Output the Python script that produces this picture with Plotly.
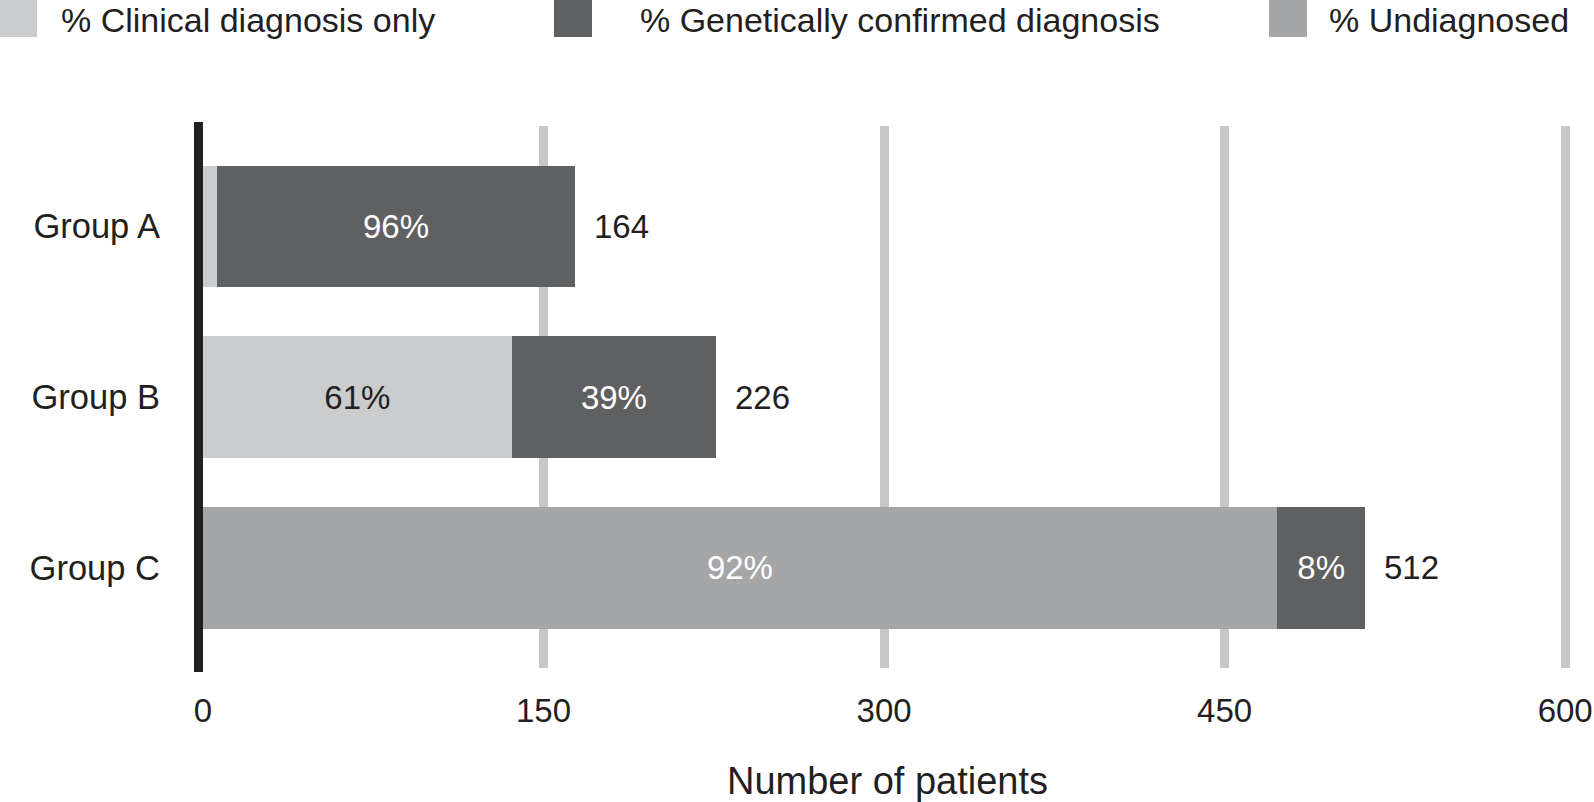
import plotly.graph_objects as go

# ---------------- data ----------------
groups = ["Group A", "Group B", "Group C"]
series_names = ["% Clinical diagnosis only", "% Genetically confirmed diagnosis", "% Undiagnosed"]
clinical = [6, 136, 0]
undiagnosed = [0, 0, 473]
genetic = [158, 90, 39]
clinical_pct = ["", "61%", ""]
undiagnosed_pct = ["", "", "92%"]
genetic_pct = ["96%", "39%", "8%"]
totals = [164, 226, 512]
x_ticks = [0, 150, 300, 450, 600]
x_title = "Number of patients"

# ---------------- style ----------------
FONT = "Liberation Sans, Arial, Helvetica, sans-serif"
TXT = "#231f20"
C_CLIN = "#cbccce"
C_GEN = "#5f6062"
C_UND = "#a5a6a8"
C_GRID = "#c6c7c9"
FS = 33
FS_CAT = 34.5
FS_LEG = 34
FS_TITLE = 38

W, H = 1594, 802
ML, MR, MT, MB = 203, 22, 126, 134
PW, PH = W - ML - MR, H - MT - MB


def px_x(p):
    return (p - ML) / PW


def px_y(p):
    return (H - MB - p) / PH


fig = go.Figure()

stack = [
    (clinical, clinical_pct, C_CLIN, TXT),
    (undiagnosed, undiagnosed_pct, C_UND, "white"),
    (genetic, genetic_pct, C_GEN, "white"),
]
for vals, labels, col, tcol in stack:
    fig.add_trace(go.Bar(
        y=groups, x=vals, orientation="h",
        marker=dict(color=col, line=dict(width=0)),
        text=labels, textposition="inside", insidetextanchor="middle",
        textangle=0, constraintext="none",
        insidetextfont=dict(family=FONT, size=FS, color=tcol),
        showlegend=False, hoverinfo="x+y",
    ))

# totals to the right of the bars
for g, t in zip(groups, totals):
    fig.add_annotation(x=t, y=g, xref="x", yref="y", text=str(t), showarrow=False,
                       xanchor="left", yanchor="middle", xshift=17,
                       font=dict(family=FONT, size=FS, color=TXT))

# thick black axis line on the left
fig.add_shape(type="line", xref="paper", yref="paper",
              x0=px_x(198.5), x1=px_x(198.5), y0=px_y(672), y1=px_y(122),
              line=dict(color=TXT, width=9), layer="above")

# custom legend
legend_items = [
    (series_names[0], C_CLIN, -10, 37, 59),
    (series_names[1], C_GEN, 554, 592, 638),
    (series_names[2], C_UND, 1269, 1307, 1327),
]
for name, col, sx0, sx1, tx in legend_items:
    fig.add_shape(type="rect", xref="paper", yref="paper",
                  x0=px_x(sx0), x1=px_x(sx1), y0=px_y(37), y1=px_y(0),
                  fillcolor=col, line=dict(width=0), layer="above")
    fig.add_annotation(x=px_x(tx), y=px_y(20), xref="paper", yref="paper",
                       text=name, showarrow=False, xanchor="left", yanchor="middle",
                       font=dict(family=FONT, size=FS_LEG, color=TXT))

fig.update_layout(
    width=W, height=H,
    margin=dict(l=ML, r=MR, t=MT, b=MB, autoexpand=False),
    barmode="stack", bargap=0.292,
    plot_bgcolor="white", paper_bgcolor="white",
    font=dict(family=FONT, size=FS, color=TXT),
    showlegend=False,
    xaxis=dict(
        range=[0, 603], tickmode="array", tickvals=x_ticks,
        showgrid=True, gridcolor=C_GRID, gridwidth=9,
        zeroline=False, showline=False, ticks="",
        tickfont=dict(family=FONT, size=FS, color=TXT),
        ticklabelstandoff=20,
        title=dict(text=x_title, font=dict(family=FONT, size=FS_TITLE, color=TXT), standoff=43),
    ),
    yaxis=dict(
        type="category", categoryorder="array", categoryarray=groups,
        range=[2.585, -0.585], autorange=False,
        showgrid=False, zeroline=False, showline=False, ticks="",
        tickfont=dict(family=FONT, size=FS_CAT, color=TXT),
        ticklabelstandoff=42,
    ),
)

fig.write_html(
    "out.html",
    config={"displayModeBar": False},
    post_script="document.body.style.margin='0';document.body.style.overflow='hidden';",
)
